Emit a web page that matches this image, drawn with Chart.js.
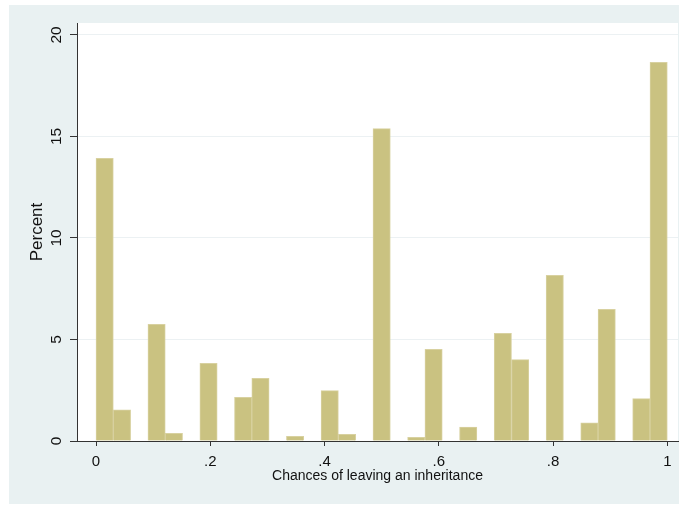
<!DOCTYPE html>
<html lang="en">
  <head>
    <meta charset="utf-8">
    <title>Chances of leaving an inheritance</title>
    <script src="https://cdn.jsdelivr.net/npm/chart.js@4.4.0/dist/chart.umd.min.js"></script>
    <style>
      html, body { margin: 0; padding: 0; background: #fff; }
      canvas { display: block; }
    </style>
  </head>
  <body>
    <canvas id="chart" width="683" height="506"></canvas>
    <script>
      // histogram: 33 bins of width 1/33 from 0 to 1
      const binCount = 33;
      const binWidth = 1 / binCount;
      const percents = [
        13.92, 1.53, 0, 5.75, 0.38, 0, 3.83, 0, 2.15, 3.09, 0,
        0.23, 0, 2.48, 0.33, 0, 15.39, 0, 0.18, 4.52, 0, 0.69,
        0, 5.30, 4.01, 0, 8.16, 0, 0.90, 6.49, 0, 2.09, 18.65
      ];
      const xTickValues = [0, 0.2, 0.4, 0.6, 0.8, 1];
      const xTickLabels = ['0', '.2', '.4', '.6', '.8', '1'];
      const yTickValues = [0, 5, 10, 15, 20];
      const yTickLabels = ['0', '5', '10', '15', '20'];

      const bars = percents.map((p, i) => ({ x: (i + 0.5) * binWidth, y: p }));

      const FONT = "'Liberation Sans', Arial, sans-serif";

      const backdrop = {
        id: 'backdrop',
        beforeDraw(chart) {
          const ctx = chart.ctx;
          const a = chart.chartArea;
          ctx.save();
          ctx.fillStyle = '#ffffff';
          ctx.fillRect(0, 0, chart.width, chart.height);
          ctx.fillStyle = 'rgb(233,241,242)';
          ctx.fillRect(9, 5, 670, 499);
          ctx.fillStyle = '#ffffff';
          ctx.fillRect(a.left, a.top, a.right - a.left, a.bottom - a.top);
          ctx.restore();
        }
      };

      const ctx = document.getElementById('chart').getContext('2d');
      new Chart(ctx, {
        type: 'bar',
        data: {
          datasets: [{
            data: bars,
            backgroundColor: 'rgb(202,194,129)',
            borderColor: 'rgb(216,209,160)',
            borderWidth: 1,
            borderSkipped: 'start',
            barPercentage: 1,
            categoryPercentage: 1,
            grouped: false
          }]
        },
        options: {
          responsive: false,
          animation: false,
          layout: { padding: { left: 0, right: 5, top: 23, bottom: 0 } },
          plugins: {
            legend: { display: false },
            tooltip: { enabled: false }
          },
          scales: {
            x: {
              type: 'linear',
              offset: false,
              min: -0.03326,
              max: 1.01873,
              afterBuildTicks: s => { s.ticks = xTickValues.map(v => ({ value: v })); },
              afterFit: s => { s.height = 65; },
              grid: { offset: false, drawOnChartArea: false, drawTicks: true, tickLength: 5, tickColor: '#333', tickWidth: 1 },
              border: { color: '#333', width: 1 },
              ticks: {
                autoSkip: false,
                maxRotation: 0,
                padding: 7,
                color: '#111',
                font: { family: FONT, size: 15 },
                callback: (v, i) => xTickLabels[i]
              },
              title: {
                display: true,
                text: 'Chances of leaving an inheritance',
                color: '#111',
                font: { family: FONT, size: 14 },
                padding: { top: 0, bottom: 21 }
              }
            },
            y: {
              min: 0,
              max: 20.59,
              afterBuildTicks: s => { s.ticks = yTickValues.map(v => ({ value: v })); },
              afterFit: s => { s.width = 77; },
              grid: { color: 'rgb(236,241,243)', tickColor: '#333', tickLength: 7, drawTicks: true },
              border: { color: '#333', width: 1 },
              ticks: {
                autoSkip: false,
                minRotation: 90,
                maxRotation: 90,
                crossAlign: 'center',
                padding: 5,
                color: '#111',
                font: { family: FONT, size: 15.5 },
                callback: (v, i) => yTickLabels[i]
              },
              title: {
                display: true,
                text: 'Percent',
                color: '#111',
                font: { family: FONT, size: 17 },
                padding: { top: 27, bottom: 0 }
              }
            }
          }
        },
        plugins: [backdrop]
      });
    </script>
  </body>
</html>
